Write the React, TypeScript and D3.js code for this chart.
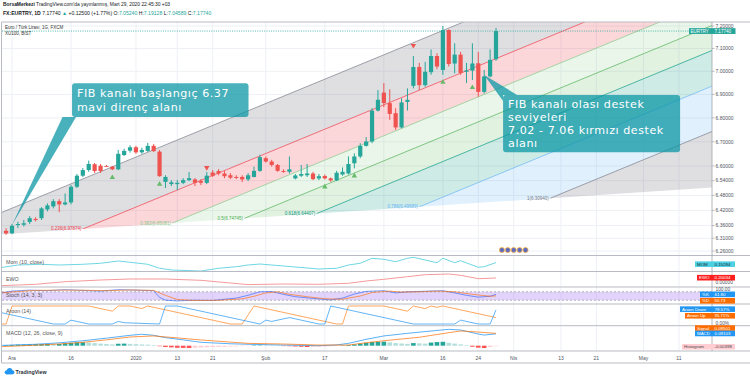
import React from "react";
import * as d3 from "d3";

// ---------------- data ----------------
const HOLIDAYS = ["2019-12-25", "2020-01-01"];
const FIRST_DATE = [2019, 10, 28];
const LAST_DATE = [2020, 4, 29];

const candleFirstBar = 1; // 29 Nov 2019
const opens = [
  6.339, 6.329, 6.362, 6.363, 6.374, 6.386, 6.389, 6.424, 6.436, 6.457,
  6.444, 6.452, 6.515, 6.56, 6.583, 6.607, 6.601, 6.6, 6.597, 6.586,
  6.645, 6.663, 6.677, 6.656, 6.662, 6.683, 6.659, 6.535, 6.526, 6.526,
  6.531, 6.542, 6.545, 6.538, 6.531, 6.573, 6.579, 6.569, 6.562, 6.555,
  6.555, 6.545, 6.555, 6.58, 6.632, 6.618, 6.604, 6.579, 6.576, 6.549,
  6.56, 6.562, 6.569, 6.549, 6.559, 6.549, 6.541, 6.565, 6.569, 6.611,
  6.639, 6.683, 6.701, 6.831, 6.908, 6.863, 6.82, 6.76, 6.868, 6.937,
  7.019, 6.94, 6.996, 7.067, 7.006, 7.182, 7.034, 7.073, 6.998, 7.003,
  7.035, 6.911, 6.978, 7.0524,
];
const highs = [
  6.349, 6.366, 6.375, 6.382, 6.397, 6.393, 6.433, 6.448, 6.465, 6.465,
  6.488, 6.522, 6.567, 6.591, 6.622, 6.612, 6.608, 6.604, 6.6, 6.666,
  6.671, 6.685, 6.683, 6.675, 6.695, 6.691, 6.666, 6.562, 6.542, 6.542,
  6.55, 6.575, 6.55, 6.546, 6.575, 6.583, 6.587, 6.579, 6.571, 6.562,
  6.562, 6.571, 6.597, 6.646, 6.639, 6.625, 6.608, 6.586, 6.639, 6.567,
  6.604, 6.608, 6.576, 6.567, 6.565, 6.553, 6.58, 6.594, 6.639, 6.652,
  6.694, 6.719, 6.841, 6.919, 6.949, 6.922, 6.841, 6.884, 6.926, 7.067,
  7.037, 7.041, 7.096, 7.079, 7.2, 7.185, 7.123, 7.085, 7.037, 7.123,
  7.085, 7.006, 7.096, 7.19128,
];
const lows = [
  6.323, 6.326, 6.35, 6.356, 6.366, 6.376, 6.382, 6.416, 6.428, 6.413,
  6.44, 6.444, 6.51, 6.555, 6.576, 6.571, 6.571, 6.596, 6.583, 6.583,
  6.641, 6.655, 6.65, 6.65, 6.658, 6.658, 6.556, 6.51, 6.518, 6.502,
  6.526, 6.538, 6.518, 6.522, 6.526, 6.555, 6.562, 6.55, 6.546, 6.546,
  6.534, 6.538, 6.553, 6.576, 6.614, 6.597, 6.576, 6.572, 6.569, 6.545,
  6.555, 6.555, 6.542, 6.542, 6.545, 6.535, 6.538, 6.56, 6.565, 6.59,
  6.632, 6.68, 6.694, 6.827, 6.846, 6.792, 6.749, 6.756, 6.831, 6.926,
  6.919, 6.933, 6.985, 7.009, 6.985, 7.021, 6.991, 6.985, 6.949, 6.962,
  6.89, 6.904, 6.973, 7.04589,
];
const closes = [
  6.329, 6.359, 6.366, 6.369, 6.389, 6.382, 6.428, 6.44, 6.457, 6.444,
  6.452, 6.515, 6.56, 6.583, 6.608, 6.579, 6.579, 6.598, 6.586, 6.65,
  6.662, 6.677, 6.656, 6.666, 6.683, 6.661, 6.558, 6.555, 6.533, 6.531,
  6.542, 6.55, 6.531, 6.531, 6.56, 6.56, 6.569, 6.558, 6.552, 6.551,
  6.545, 6.562, 6.58, 6.636, 6.618, 6.604, 6.58, 6.576, 6.586, 6.561,
  6.567, 6.569, 6.546, 6.558, 6.549, 6.541, 6.572, 6.576, 6.608, 6.639,
  6.683, 6.701, 6.831, 6.877, 6.863, 6.817, 6.76, 6.866, 6.877, 7.019,
  6.94, 6.998, 7.067, 7.021, 7.182, 7.032, 7.073, 6.993, 7.004, 7.034,
  6.911, 6.978, 7.05, 7.1774,
];

const priceTicks = [7.2, 7.1, 7.0, 6.9, 6.8, 6.7, 6.6, 6.54, 6.48, 6.42, 6.36, 6.31, 6.26];
const lastPrice = 7.1774;

const timeTickDates = [
  "2019-12-02", "2019-12-16", "2020-01-02", "2020-01-13", "2020-01-21", "2020-02-03", "2020-02-17",
  "2020-03-02", "2020-03-16", "2020-03-24", "2020-04-01", "2020-04-13", "2020-04-21", "2020-05-01", "2020-05-11",
];
const timeTickLabels = ["Ara", "16", "2020", "13", "21", "Şub", "17", "Mar", "16", "24", "Nis", "13", "21", "May", "11"];

// Fib channel
const fibLevels = [0, 0.236, 0.382, 0.5, 0.618, 0.786, 1, 1.618];
const fibColors = ["#787b86", "#f23645", "#81c784", "#4caf50", "#089981", "#64b5f6", "#787b86", "#787b86"];
const fibLabels = ["", "0.236(6.97874)", "0.382(6.85081)", "0.5(6.74745)", "0.618(6.64407)", "0.786(6.49689)", "1(6.30940)", ""];
const fibAnchorBars = [-10.4, 75.5, 93.2];
const fibAnchorPrices = [6.3094, 7.1855, 6.469];

// signal markers
const buyMarkerBars = [19, 27, 55, 60, 75, 80];
const sellMarkerBars = [35, 70];
const eventBars = [85, 86, 87, 88, 89];

// callouts
const callout1Lines = ["FIB kanalı başlangıç 6.37", "mavi direnç alanı"];
const callout2Lines = ["FIB kanalı olası destek", "seviyeleri", "7.02 - 7.06 kırmızı destek", "alanı"];
const calloutTipBars = [2, 82];
const calloutTipPrices = [6.362, 6.984];
const calloutBoxBars = [12.17, 85.2];
const calloutBoxPrices = [6.948, 6.898];

// indicators
const momBars = [0, 3, 7, 10, 14, 17, 20, 22, 25, 27, 29, 34, 37, 40, 42, 44, 48, 54, 57, 59, 61, 63, 65, 67, 69, 70, 72, 74, 75, 77, 78, 81, 82, 84];
const momValues = [-0.022, 0.07, 0.094, 0.07, 0.094, 0.128, 0.206, 0.162, 0.094, -0.042, -0.1, -0.134, -0.042, 0.012, 0.07, 0.104, 0.036, -0.066, -0.042, 0.07, 0.128, 0.298, 0.264, 0.182, 0.298, 0.332, 0.24, 0.148, 0.298, 0.148, 0.216, -0.008, 0.012, 0.15284];

const ewoBars = [0, 6, 11, 17, 22, 28, 34, 39, 42, 48, 54, 59, 62, 65, 69, 72, 76, 78, 81, 84];
const ewoValues = [-0.185, -0.115, 0.015, 0.1, 0.15, 0.15, 0.085, -0.05, -0.13, -0.1, -0.115, -0.065, 0.05, 0.135, 0.265, 0.365, 0.4, 0.335, 0.165, 0.20034];

const stochKBars = [0, 2, 5, 8, 11, 14, 17, 20, 23, 26, 27, 28, 30, 33, 36, 40, 42, 44, 46, 48, 50, 53, 56, 58, 60, 62, 65, 67, 69, 72, 75, 77, 79, 81, 83, 84];
const stochKValues = [70, 85, 92, 88, 95, 90, 85, 95, 92, 88, 40, 20, 15, 20, 18, 35, 55, 80, 82, 62, 45, 33, 22, 35, 64, 83, 88, 72, 80, 84, 88, 72, 55, 42, 48, 61.8];
const stochDBars = [0, 3, 6, 10, 14, 18, 22, 26, 28, 30, 33, 37, 41, 43, 45, 47, 49, 52, 55, 58, 61, 63, 66, 68, 71, 74, 77, 80, 83, 84];
const stochDValues = [72, 82, 90, 92, 91, 88, 93, 90, 55, 25, 18, 19, 30, 48, 72, 80, 62, 45, 30, 27, 50, 75, 85, 78, 80, 85, 80, 62, 48, 50.73];

const aroonUpBars = [0, 1, 2, 15, 19, 20, 22, 24, 25, 39, 41, 42, 43, 57, 58, 59, 65, 69, 70, 72, 73, 74, 75, 84];
const aroonUpValues = [0, 0, 100, 100, 71.4, 100, 100, 85.7, 100, 0, 0, 50, 100, 0, 0, 100, 100, 71.4, 100, 85.7, 100, 92.9, 100, 35.71];
const aroonDownBars = [0, 9, 11, 12, 15, 19, 20, 21, 27, 28, 30, 44, 45, 46, 49, 50, 54, 55, 56, 70, 77, 78, 81, 83, 84];
const aroonDownValues = [64.3, 0, 0, 21.4, 0, 0, 14.3, 7.1, 0, 100, 100, 0, 21.4, 14.3, 35.7, 28.6, 0, 0, 100, 0, 0, 21.4, 0, 0, 78.57];

const macdBars = [0, 6, 10, 14, 18, 22, 24, 26, 28, 31, 34, 39, 42, 48, 54, 57, 59, 62, 65, 69, 73, 76, 78, 81, 82, 84];
const macdValues = [0.002, 0.011, 0.022, 0.038, 0.058, 0.08, 0.088, 0.08, 0.062, 0.045, 0.026, 0.015, 0.011, 0.005, 0.0, 0.006, 0.018, 0.049, 0.075, 0.095, 0.113, 0.126, 0.121, 0.09, 0.082, 0.09103];
const signalBars = [0, 6, 10, 14, 18, 22, 26, 30, 34, 42, 48, 54, 59, 62, 65, 71, 76, 78, 81, 84];
const signalValues = [-0.008, 0.004, 0.013, 0.026, 0.045, 0.067, 0.075, 0.06, 0.044, 0.018, 0.013, 0.005, 0.005, 0.023, 0.038, 0.065, 0.1, 0.113, 0.105, 0.09501];
const histFirstBar = 1;
const histValues = [
  0.004, 0.006, 0.008, 0.008, 0.009, 0.011, 0.012, 0.013, 0.012, 0.013,
  0.018, 0.022, 0.025, 0.026, 0.024, 0.02, 0.016, 0.013, 0.01, 0.015,
  0.016, 0.014, 0.012, 0.01, 0.008, 0.005, -0.004, -0.01, -0.013, -0.016,
  -0.017, -0.018, -0.016, -0.014, -0.012, -0.01, -0.009, -0.008, -0.006, -0.005,
  -0.004, -0.002, 0.001, 0.003, 0.002, 0.001, 0.0, -0.002, -0.004, -0.006,
  -0.008, -0.01, -0.009, -0.008, -0.006, -0.004, -0.002, 0.002, 0.006, 0.01,
  0.016, 0.022, 0.028, 0.03, 0.031, 0.026, 0.02, 0.017, 0.014, 0.02,
  0.018, 0.016, 0.024, 0.028, 0.03, 0.022, 0.016, 0.01, 0.004, -0.008,
  -0.015, -0.018, -0.01, -0.00398,
];

// ---------------- helpers ----------------
function buildBarDates(): string[] {
  const out: string[] = [];
  const d = new Date(Date.UTC(FIRST_DATE[0], FIRST_DATE[1], FIRST_DATE[2]));
  const end = Date.UTC(LAST_DATE[0], LAST_DATE[1], LAST_DATE[2]);
  while (d.getTime() <= end) {
    const wd = d.getUTCDay();
    const iso = d.toISOString().slice(0, 10);
    if (wd !== 0 && wd !== 6 && !HOLIDAYS.includes(iso)) out.push(iso);
    d.setUTCDate(d.getUTCDate() + 1);
  }
  return out;
}

const UI_FONT = "'Liberation Sans', Arial, sans-serif";
const GREEN = "#26a69a";
const RED = "#ef5350";
const CALLOUT_FS = 11.1;
const CALLOUT_STEP = 13.1;

export default function App() {
  const barDates = buildBarDates();
  const xScale = d3
    .scaleLinear()
    .domain([barDates.indexOf("2019-12-02"), barDates.indexOf("2020-03-27")])
    .range([12, 496]);
  const yScale = d3.scaleLog().domain([6.26, 7.2]).range([251, 26]);

  const PL = 2, PR = 712, PT = 22, PB = 255.5;

  const momY = d3.scaleLinear().domain([-0.151, 0.376]).range([271.5, 256]);
  const ewoY = d3.scaleLinear().domain([-0.25, 0.5]).range([287, 272]);
  const stochY = d3.scaleLinear().domain([0, 100]).range([303, 289]);
  const aroonY = d3.scaleLinear().domain([0, 100]).range([324, 306]);
  const macdY = d3.scaleLinear().domain([0, 0.1]).range([345.7, 332.7]);

  const mkLine = (sc: any) =>
    d3
      .line<[number, number]>()
      .x((d) => xScale(d[0]))
      .y((d) => sc(d[1]));
  const zip = (a: number[], b: number[]) => a.map((v, k) => [v, b[k]] as [number, number]);

  // fib geometry
  const p1 = [xScale(fibAnchorBars[0]), yScale(fibAnchorPrices[0])];
  const p2 = [xScale(fibAnchorBars[1]), yScale(fibAnchorPrices[1])];
  const p3 = [xScale(fibAnchorBars[2]), yScale(fibAnchorPrices[2])];
  const slope = (p2[1] - p1[1]) / (p2[0] - p1[0]);
  const fibStart = fibLevels.map((L) => [p1[0] + L * (p3[0] - p1[0]), p1[1] + L * (p3[1] - p1[1])]);
  const fibEnd = fibStart.map((s) => [PR, s[1] + slope * (PR - s[0])]);

  const tickX = timeTickDates.map((d) => xScale(barDates.indexOf(d)));

  const sepYs = [PB, 271.5, 287, 304, 325.7, 351, 363];

  const axisLabels = [
    { name: "MOM", value: "0.15284", y: momY(0.15284) + 1.6, bg: "#4dd0e1", fg: "#1d2a3a", left: 695 },
    { name: "EWO", value: "0.20034", y: ewoY(0.20034) - 0.3, bg: "#ff1e1e", fg: "#ffffff", left: 697 },
    { name: "Signal", value: "0.09501", y: macdY(0.09501) - 5.3, bg: "#ff6d00", fg: "#ffffff", left: 695 },
    { name: "MACD", value: "0.09103", y: macdY(0.09103) - 0.4, bg: "#2196f3", fg: "#ffffff", left: 695 },
    { name: "%K", value: "61.80", y: stochY(61.8), bg: "#2196f3", fg: "#ffffff", left: 700 },
    { name: "%D", value: "50.73", y: stochY(50.73) + 4.9, bg: "#ff6d00", fg: "#ffffff", left: 700 },
    { name: "Aroon Down", value: "78.57%", y: aroonY(78.57) - 0.7, bg: "#2196f3", fg: "#ffffff", left: 680 },
    { name: "Aroon Up", value: "35.71%", y: aroonY(35.71) - 1.8, bg: "#ff6d00", fg: "#ffffff", left: 685 },
    { name: "Histogram", value: "-0.00398", y: macdY(-0.00398) + 0.6, bg: "#ffcdd2", fg: "#4a4a4a", left: 682 },
  ];

  const callouts = [callout1Lines, callout2Lines].map((lines, k) => {
    const bx = xScale(calloutBoxBars[k]);
    const by = yScale(calloutBoxPrices[k]);
    const w = k === 0 ? 176.5 : 177;
    const h = k === 0 ? lines.length * CALLOUT_STEP + 7.5 : lines.length * CALLOUT_STEP + 5;
    const tx = xScale(calloutTipBars[k]);
    const ty = yScale(calloutTipPrices[k]);
    const tail =
      k === 0
        ? [[tx, ty], [bx - 9.5, by + h], [bx + 4, by + h]]
        : [[tx, ty], [bx + 14, by], [bx, by], [bx, by + 6]];
    return { lines, bx, by, w, h, tail };
  });

  const teal = "#26a69a";
  const lastY = yScale(lastPrice);

  return (
    <svg
      width={750}
      height={378}
      style={{ position: "absolute", left: 0, top: 0, background: "#ffffff" }}
      fontFamily={UI_FONT}
    >
      <defs>
        <clipPath id="mainClip">
          <rect x={PL} y={PT} width={PR - PL} height={PB - PT} />
        </clipPath>
        <clipPath id="paneClip">
          <rect x={PL} y={PB} width={PR - PL} height={351 - PB} />
        </clipPath>
      </defs>
      <rect x={0} y={0} width={750} height={378} fill="#ffffff" />

      {/* header */}
      <text x={3} y={6} fontSize={4.9} fill="#131722">
        <tspan fontWeight="bold">BorsaMerkezi</tspan>
        <tspan> TradingView.com'da yayınlanmış, Mart 29, 2020 22:45:30 +03</tspan>
      </text>
      <text x={3} y={14.6} fontSize={5.1} fill="#131722">
        <tspan fontWeight="bold">FX:EURTRY, 1D</tspan>
        <tspan> 7.17740 </tspan>
        <tspan fill={teal}>▲</tspan>
        <tspan> +0.12500 (+1.77%) O:</tspan>
        <tspan fill={teal}>7.05240</tspan>
        <tspan> H:</tspan>
        <tspan fill={teal}>7.19128</tspan>
        <tspan> L:</tspan>
        <tspan fill={teal}>7.04589</tspan>
        <tspan> C:</tspan>
        <tspan fill={teal}>7.17740</tspan>
      </text>

      {/* grid */}
      {priceTicks.map((t, k) => (
        <line key={"hg" + k} x1={PL} x2={PR} y1={yScale(t)} y2={yScale(t)} stroke="#eef0f5" strokeWidth={1} />
      ))}
      {tickX.map((x, k) => (
        <line key={"vg" + k} x1={x} x2={x} y1={PT} y2={351} stroke="#eef0f5" strokeWidth={1} />
      ))}

      {/* fib channel */}
      <g clipPath="url(#mainClip)">
        {fibLevels.slice(0, -1).map((L, k) => {
          const pts = [fibStart[k], fibEnd[k], fibEnd[k + 1], fibStart[k + 1]];
          return (
            <polygon
              key={"ff" + k}
              points={pts.map((p) => p.join(",")).join(" ")}
              fill={fibColors[k]}
              fillOpacity={k === 0 || k === 6 ? 0.24 : k === 2 || k === 3 ? 0.17 : 0.2}
            />
          );
        })}
        {fibLevels.slice(0, -1).map((L, k) => (
          <line
            key={"fl" + k}
            x1={fibStart[k][0]}
            y1={fibStart[k][1]}
            x2={fibEnd[k][0]}
            y2={fibEnd[k][1]}
            stroke={fibColors[k]}
            strokeWidth={0.9}
            strokeOpacity={0.75}
          />
        ))}
        {fibLabels.map((t, k) =>
          t ? (
            <text
              key={"fx" + k}
              x={fibStart[k][0] - 1.5}
              y={fibStart[k][1] + 1.5}
              fontSize={4.5}
              textAnchor="end"
              fill={fibColors[k]}
            >
              {t}
            </text>
          ) : null
        )}
      </g>

      {/* last price line */}
      <line x1={PL} x2={PR} y1={lastY} y2={lastY} stroke={teal} strokeWidth={0.8} strokeDasharray="1,1.3" />

      {/* legend */}
      <text x={5} y={28.6} fontSize={4.5} fill="#333">Euro / Türk Lirası, 1G, FXCM</text>
      <text x={5} y={34.6} fontSize={4.5} fill="#333">XU100, BIST</text>

      {/* candles */}
      <g clipPath="url(#mainClip)">
        {opens.map((o, k) => {
          const i = candleFirstBar + k;
          const x = xScale(i);
          const c = closes[k];
          const color = c >= o ? GREEN : RED;
          const yT = yScale(Math.max(o, c));
          const yB = yScale(Math.min(o, c));
          return (
            <g key={"c" + k}>
              <line x1={x} x2={x} y1={yScale(highs[k])} y2={yScale(lows[k])} stroke={color} strokeWidth={1} />
              <rect x={x - 2.1} y={yT} width={4.2} height={Math.max(0.9, yB - yT)} fill={color} />
            </g>
          );
        })}
        {buyMarkerBars.map((b, k) => {
          const x = xScale(b);
          const y = yScale(lows[b - candleFirstBar]) + 7;
          return <polygon key={"bm" + k} points={`${x - 2.7},${y + 2} ${x + 2.7},${y + 2} ${x},${y - 2.6}`} fill="#66bb6a" />;
        })}
        {sellMarkerBars.map((b, k) => {
          const x = xScale(b);
          const y = yScale(highs[b - candleFirstBar]) - (k === 0 ? 4 : 10);
          return <polygon key={"sm" + k} points={`${x - 2.7},${y - 2} ${x + 2.7},${y - 2} ${x},${y + 2.6}`} fill="#ef5350" />;
        })}
      </g>

      {/* events */}
      {eventBars.map((b, k) => (
        <circle key={"ev" + k} cx={xScale(b)} cy={250} r={2.6} fill="#5c6bc0" stroke="#ffb74d" strokeWidth={0.8} />
      ))}

      {/* callouts */}
      {callouts.map((c, k) => (
        <g key={"co" + k}>
          <polygon points={c.tail.map((p) => p.join(",")).join(" ")} fill="#0a96a3" fillOpacity={0.74} />
          <rect x={c.bx} y={c.by} width={c.w} height={c.h} rx={3} fill="#0a96a3" fillOpacity={0.74} />
          {c.lines.map((t, j) => (
            <text
              key={j}
              x={c.bx + 5}
              y={c.by + (k === 0 ? 14.2 : 13.2) + j * CALLOUT_STEP}
              fontSize={CALLOUT_FS}
              letterSpacing={0.55}
              fill="#ffffff"
              fontFamily="'DejaVu Sans', sans-serif"
            >
              {t}
            </text>
          ))}
        </g>
      ))}

      {/* indicator panes */}
      <g clipPath="url(#paneClip)">
        <path d={mkLine(momY)(zip(momBars, momValues)) || ""} fill="none" stroke="#6fd6e3" strokeWidth={1} />
        <path d={mkLine(ewoY)(zip(ewoBars, ewoValues)) || ""} fill="none" stroke="#f59a9a" strokeWidth={1} />
        <rect x={PL} y={stochY(80)} width={PR - PL} height={stochY(20) - stochY(80)} fill="rgb(160,110,240)" fillOpacity={0.3} />
        <line x1={PL} x2={PR} y1={stochY(80)} y2={stochY(80)} stroke="#9598a1" strokeWidth={0.7} strokeDasharray="2,2" />
        <line x1={PL} x2={PR} y1={stochY(20)} y2={stochY(20)} stroke="#9598a1" strokeWidth={0.7} strokeDasharray="2,2" />
        <path d={mkLine(stochY)(zip(stochKBars, stochKValues)) || ""} fill="none" stroke="#2962ff" strokeOpacity={0.7} strokeWidth={0.9} />
        <path d={mkLine(stochY)(zip(stochDBars, stochDValues)) || ""} fill="none" stroke="#ff6d00" strokeOpacity={0.7} strokeWidth={0.9} />
        <path d={mkLine(aroonY)(zip(aroonUpBars, aroonUpValues)) || ""} fill="none" stroke="#ff8a2a" strokeOpacity={0.75} strokeWidth={1} />
        <path d={mkLine(aroonY)(zip(aroonDownBars, aroonDownValues)) || ""} fill="none" stroke="#2196f3" strokeOpacity={0.7} strokeWidth={1} />
        {histValues.map((v, k) => {
          const prev = k > 0 ? histValues[k - 1] : 0;
          let col;
          if (v >= 0) col = v >= prev ? "#26a69a" : "#b2dfdb";
          else col = v <= prev ? "#ff5252" : "#ffcdd2";
          const x = xScale(histFirstBar + k);
          const y0 = macdY(0);
          const y1 = macdY(v);
          return <rect key={"h" + k} x={x - 2.3} y={Math.min(y0, y1)} width={4.6} height={Math.max(0.4, Math.abs(y1 - y0))} fill={col} />;
        })}
        <path d={mkLine(macdY)(zip(macdBars, macdValues)) || ""} fill="none" stroke="#2196f3" strokeOpacity={0.75} strokeWidth={1} />
        <path d={mkLine(macdY)(zip(signalBars, signalValues)) || ""} fill="none" stroke="#ff6d00" strokeOpacity={0.7} strokeWidth={1} />
      </g>

      {/* pane titles */}
      <text x={6} y={263.6} fontSize={5.3} fill="#555">Mom (10, close)</text>
      <text x={6} y={280.9} fontSize={5.3} fill="#555">EWO</text>
      <text x={6} y={297} fontSize={5.3} fill="#555">Stoch (14, 3, 3)</text>
      <text x={6} y={312.6} fontSize={5.3} fill="#555">Aroon (14)</text>
      <text x={6} y={335} fontSize={5.3} fill="#555">MACD (12, 26, close, 9)</text>

      {/* separators & frame */}
      {sepYs.map((y, k) => (
        <line key={"sp" + k} x1={1.5} x2={750} y1={y} y2={y} stroke="#b8bbc3" strokeWidth={1} />
      ))}
      <line x1={1.5} x2={750} y1={PT} y2={PT} stroke="#b8bbc3" strokeWidth={1} />
      <line x1={1.5} x2={1.5} y1={PT} y2={363} stroke="#b8bbc3" strokeWidth={1} />
      <line x1={PR} x2={PR} y1={PT} y2={351} stroke="#9fa3ab" strokeWidth={0.8} />

      {/* price axis */}
      {priceTicks.map((t, k) => (
        <g key={"pt" + k}>
          <line x1={PR} x2={PR + 2.5} y1={yScale(t)} y2={yScale(t)} stroke="#9fa3ab" strokeWidth={0.7} />
          <text x={PR + 3.5} y={yScale(t) + 1.8} fontSize={5} fill="#50535e">
            {d3.format(".5f")(t)}
          </text>
        </g>
      ))}
      <rect x={689} y={lastY - 2.9} width={46.5} height={5.8} fill={teal} />
      <text x={690.5} y={lastY + 1.6} fontSize={4.5} fill="#fff">EURTRY</text>
      <text x={PR + 2.5} y={lastY + 1.6} fontSize={4.6} fill="#fff">7.17740</text>

      <text x={PR + 3.5} y={283.6} fontSize={4.8} fill="#50535e">0.00000</text>
      <text x={PR + 3.5} y={291.3} fontSize={4.8} fill="#50535e">100.00</text>
      <text x={PR + 3.5} y={325.2} fontSize={4.8} fill="#50535e">0.00%</text>
      {axisLabels.map((l, k) => (
        <g key={"al" + k}>
          <rect x={l.left} y={l.y - 2.8} width={735 - l.left} height={5.6} fill={l.bg} />
          <text x={l.left + 2} y={l.y + 1.6} fontSize={4.4} fill={l.fg}>{l.name}</text>
          <text x={PR + 2.5} y={l.y + 1.6} fontSize={4.4} fill={l.fg}>{l.value}</text>
        </g>
      ))}

      {/* time axis */}
      {tickX.map((x, k) => (
        <text key={"tx" + k} x={x} y={359.6} fontSize={5} textAnchor="middle" fill="#50535e">
          {timeTickLabels[k]}
        </text>
      ))}

      {/* TradingView logo */}
      <g fill="#2196f3">
        <circle cx={6.8} cy={372.3} r={2.1} />
        <circle cx={9.6} cy={370.6} r={2.7} />
        <circle cx={12.4} cy={372.3} r={2} />
        <rect x={6.8} y={372} width={5.6} height={2.4} />
      </g>
      <text x={15.5} y={374.4} fontSize={5.3} fill="#2a2e39" fontWeight="bold">TradingView</text>
    </svg>
  );
}
